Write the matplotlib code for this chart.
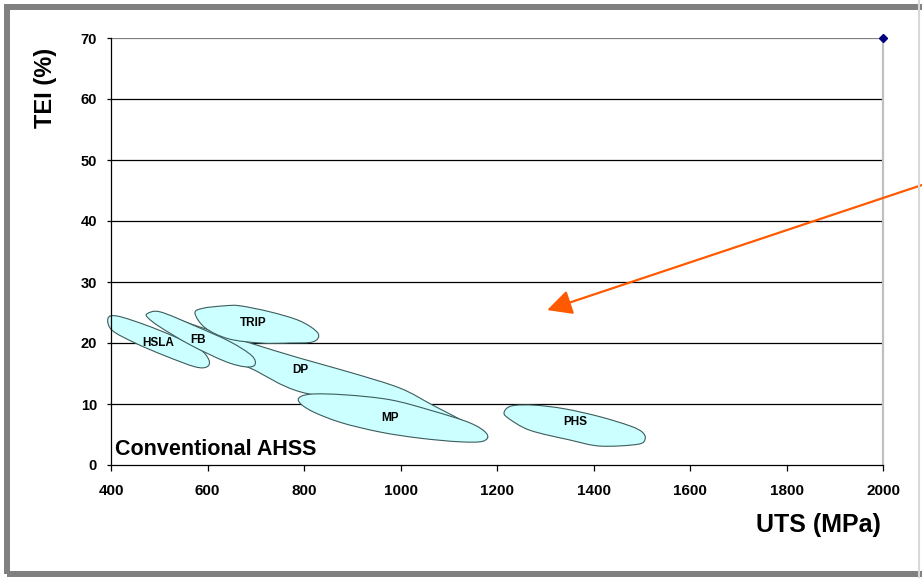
import matplotlib
matplotlib.use("Agg")
import matplotlib.pyplot as plt
from matplotlib.patches import PathPatch, Rectangle
from matplotlib.path import Path
from matplotlib.lines import Line2D

plt.rcParams['font.family'] = ['Liberation Sans', 'DejaVu Sans']
plt.rcParams['font.weight'] = 'bold'

# Steel class regions: outline points (UTS MPa, TEI %)
hsla_uts = [394, 414, 470, 533, 584, 603, 599, 574, 512, 450, 402]
hsla_tei = [24.1, 24.4, 23.0, 21.0, 19.0, 17.2, 16.1, 16.1, 17.9, 20.0, 22.1]

fb_uts = [475, 502, 574, 647, 692, 698, 678, 636, 564, 502, 477]
fb_tei = [24.8, 25.1, 22.8, 20.2, 17.9, 16.4, 16.1, 17.0, 19.7, 22.6, 24.1]

trip_uts = [574, 591, 636, 667, 730, 792, 829, 819, 771, 709, 643, 595]
trip_tei = [24.9, 25.7, 26.1, 26.1, 25.1, 23.6, 21.6, 20.2, 20.0, 20.0, 20.7, 22.5]

dp_uts = [512, 585, 688, 792, 895, 999, 1067, 1144, 1179, 1165, 1082, 958, 792, 688, 585, 522]
dp_tei = [24.4, 22.6, 20.0, 17.5, 15.2, 12.6, 9.8, 6.6, 4.8, 4.6, 6.6, 9.8, 12.0, 15.9, 19.2, 22.1]

mp_uts = [788, 812, 885, 978, 1061, 1144, 1179, 1171, 1123, 1040, 958, 875, 812]
mp_tei = [10.7, 11.6, 11.5, 10.7, 9.0, 6.9, 5.1, 3.9, 3.8, 4.4, 5.4, 7.0, 9.0]

phs_uts = [1215, 1231, 1279, 1341, 1414, 1476, 1501, 1507, 1492, 1414, 1351, 1268, 1223]
phs_tei = [8.7, 9.7, 9.8, 9.2, 7.9, 6.4, 5.4, 4.3, 3.4, 3.1, 4.1, 5.7, 7.7]

region_names = ['DP', 'MP', 'HSLA', 'FB', 'TRIP', 'PHS']
region_uts = [dp_uts, mp_uts, hsla_uts, fb_uts, trip_uts, phs_uts]
region_tei = [dp_tei, mp_tei, hsla_tei, fb_tei, trip_tei, phs_tei]
label_uts = [792, 978, 497, 580, 694, 1362]
label_tei = [15.6, 7.7, 20.0, 20.5, 23.3, 7.0]

# single plotted series point
point_uts = [2000]
point_tei = [70]

# arrow target
arrow_uts = 1304
arrow_tei = 25.4

x_ticks = [400, 600, 800, 1000, 1200, 1400, 1600, 1800, 2000]
y_ticks = [0, 10, 20, 30, 40, 50, 60, 70]


def smooth_outline(xs, ys):
    # closed bezier path through the outline points (catmull-rom style)
    pts = list(zip(xs, ys))
    n = len(pts)
    verts = [pts[0]]
    codes = [Path.MOVETO]
    for i in range(n):
        p0, p1 = pts[i - 1], pts[i]
        p2, p3 = pts[(i + 1) % n], pts[(i + 2) % n]
        c1 = (p1[0] + (p2[0] - p0[0]) / 6, p1[1] + (p2[1] - p0[1]) / 6)
        c2 = (p2[0] - (p3[0] - p1[0]) / 6, p2[1] - (p3[1] - p1[1]) / 6)
        verts += [c1, c2, p2]
        codes += [Path.CURVE4] * 3
    return Path(verts, codes)


W, H = 922, 578
fig = plt.figure(figsize=(W / 100, H / 100), dpi=100)
ax = fig.add_axes([111 / W, 1 - 465 / H, 772 / W, 427 / H])

# outer frame
fig.patches.append(Rectangle((7 / W, 1 - 574 / H), 1.05, (574 - 6.5) / H,
                             transform=fig.transFigure, fill=False,
                             edgecolor='#808080', linewidth=4.3))
fig.lines.append(Line2D([919 / W, 919 / W], [0, 1], transform=fig.transFigure,
                        color='#d8d8d8', linewidth=1.5))

ax.set_xlim(400, 2000)
ax.set_ylim(0, 70)

# horizontal grid lines
for yv in y_ticks[1:]:
    ax.axhline(yv, color='#808080' if yv == 70 else '#000000', linewidth=0.9, zorder=1)

# regions
for name, xs, ys, lx, ly in zip(region_names, region_uts, region_tei, label_uts, label_tei):
    patch = PathPatch(smooth_outline(xs, ys), facecolor='#ccffff',
                      edgecolor='#3d5c5c', linewidth=0.8, zorder=2, clip_on=False)
    ax.add_patch(patch)
    ax.text(lx, ly, name, ha='center', va='center', fontsize=8.5,
            fontweight='bold', zorder=5)

ax.plot(point_uts, point_tei, linestyle='none', marker='D', markersize=4,
        color='#000080', clip_on=False, zorder=6)

ax.text(408, 1.6, 'Conventional AHSS', fontsize=15.5, fontweight='bold',
        ha='left', va='baseline', zorder=6)

ax.annotate('', xy=(arrow_uts, arrow_tei), xycoords='data',
            xytext=(1.0, 1 - 185 / H), textcoords='figure fraction',
            arrowprops=dict(arrowstyle='-|>,head_length=0.75,head_width=0.38',
                            mutation_scale=20, color='#ff5a00', linewidth=1.6,
                            shrinkA=0, shrinkB=0),
            annotation_clip=False, zorder=7)

ax.set_xticks(x_ticks)
ax.set_yticks(y_ticks)
ax.tick_params(axis='x', direction='out', length=4.5, width=0.9, pad=9,
               labelsize=11, colors='black')
ax.tick_params(axis='y', direction='out', length=3, width=0.9, pad=7,
               labelsize=10.5, colors='black')
for lab in ax.get_xticklabels() + ax.get_yticklabels():
    lab.set_fontweight('bold')

ax.spines['top'].set_visible(False)
ax.spines['right'].set_color('#c0c0c0')
ax.spines['right'].set_linewidth(1.6)
ax.spines['left'].set_linewidth(0.9)
ax.spines['bottom'].set_linewidth(0.9)

fig.text(45 / W, 1 - 88 / H, 'TEI (%)', rotation=90, ha='center', va='center',
         fontsize=17, fontweight='bold')
fig.text(818 / W, 1 - 525 / H, 'UTS (MPa)', ha='center', va='center',
         fontsize=18, fontweight='bold')

fig.savefig('out.png', dpi=100)
